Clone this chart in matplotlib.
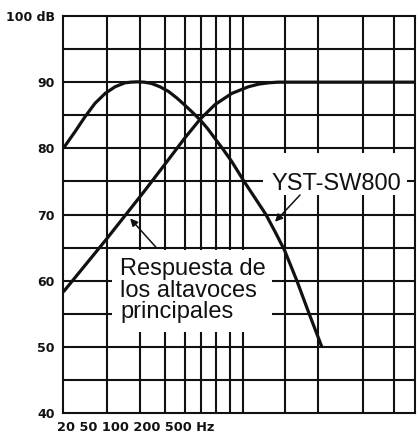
import matplotlib
matplotlib.use('Agg')
import matplotlib.pyplot as plt
from matplotlib.patches import Rectangle

# ---- data (x in relative position units 0..100 across the chart, y in dB) ----
main_x = [0, 6, 12.3, 17.5, 22.7, 28.9, 34.6, 38.9, 43.1, 47.9, 52.6, 55.5, 58.3, 61, 64, 100]
main_db = [58.3, 62.2, 66.3, 69.8, 73.3, 77.6, 81.6, 84.4, 86.6, 88.3, 89.3, 89.7, 89.9, 90, 90, 90]

sub_x = [0, 3.3, 6.2, 9.0, 11.9, 14.7, 17.5, 19.2, 20.9, 23.0, 25.1, 27.5, 29.9, 32.3, 34.6,
         36.8, 38.9, 41.0, 43.1, 45.5, 47.9, 51.4, 54.5, 57.6, 60.3, 62.9, 66.4, 69.9, 73.5]
sub_db = [80, 82.5, 84.8, 86.8, 88.3, 89.3, 89.9, 90.0, 90.05, 90.0, 89.8, 89.3, 88.6, 87.6, 86.5,
          85.4, 84.3, 83.0, 81.5, 79.8, 78.0, 75.0, 72.5, 70.0, 67.3, 64.6, 60.0, 55.0, 50.0]

y_ticks = [40, 50, 60, 70, 80, 90, 100]
y_tick_labels = ['40', '50', '60', '70', '80', '90', '100 dB']
x_caption = '20 50 100 200 500 Hz'
grid_x = [12.51, 21.80, 28.91, 34.60, 39.05, 43.32, 47.49, 51.00, 63.13, 72.51, 85.31, 94.03]
grid_y = [45, 50, 55, 60, 65, 70, 75, 80, 85, 90, 95]
label_sub = 'YST-SW800'
label_main = ['Respuesta de', 'los altavoces', 'principales']

W, H = 418, 437
fig = plt.figure(figsize=(W / 100, H / 100), dpi=100)
ax = fig.add_axes([63.33 / W, 24 / H, 351.67 / W, 397 / H])
ax.set_xlim(0, 100)
ax.set_ylim(40, 100)

ink = '#111111'
glw = 1.5

for gx in grid_x:
    ax.axvline(gx, color=ink, lw=glw, zorder=1)
for gy in grid_y:
    ax.axhline(gy, color=ink, lw=glw, zorder=1)

for s in ax.spines.values():
    s.set_linewidth(glw)
    s.set_color(ink)

# white label backgrounds hiding the grid
ax.add_patch(Rectangle((13.8, 52.3), 59.3 - 13.8, 64.6 - 52.3,
                       facecolor='white', edgecolor='none', zorder=2))
ax.add_patch(Rectangle((56.8, 72.9), 97.7 - 56.8, 79.3 - 72.9,
                       facecolor='white', edgecolor='none', zorder=2))

ax.plot(main_x, main_db, color=ink, lw=2.3, zorder=3, solid_capstyle='butt')
ax.plot(sub_x, sub_db, color=ink, lw=2.3, zorder=3, solid_capstyle='butt')

arrow = dict(arrowstyle='-|>', color=ink, lw=1.1, mutation_scale=11, shrinkA=0, shrinkB=0)
ax.annotate('', xy=(60.2, 68.9), xytext=(67.3, 72.95), arrowprops=arrow, zorder=4)
ax.annotate('', xy=(19.0, 69.4), xytext=(26.6, 64.9), arrowprops=arrow, zorder=4)

tfont = dict(fontsize=17, family=['Liberation Sans', 'DejaVu Sans'], color=ink, zorder=5)
ax.text(59.25, 73.7, label_sub, ha='left', va='baseline', **tfont)
for line, yb in zip(label_main, [60.86, 57.58, 54.36]):
    ax.text(16.1, yb, line, ha='left', va='baseline', **tfont)

ax.set_xticks([])
ax.set_yticks(y_ticks, y_tick_labels)
ax.tick_params(axis='y', length=0, pad=6, labelsize=9)
for lab in ax.get_yticklabels():
    lab.set_fontweight('bold')
    lab.set_color(ink)

fig.text(57.3 / W, 1 - 427.7 / H, x_caption, fontsize=9.3, fontweight='bold',
         ha='left', va='center', color=ink)

fig.savefig('out.png', dpi=100)
